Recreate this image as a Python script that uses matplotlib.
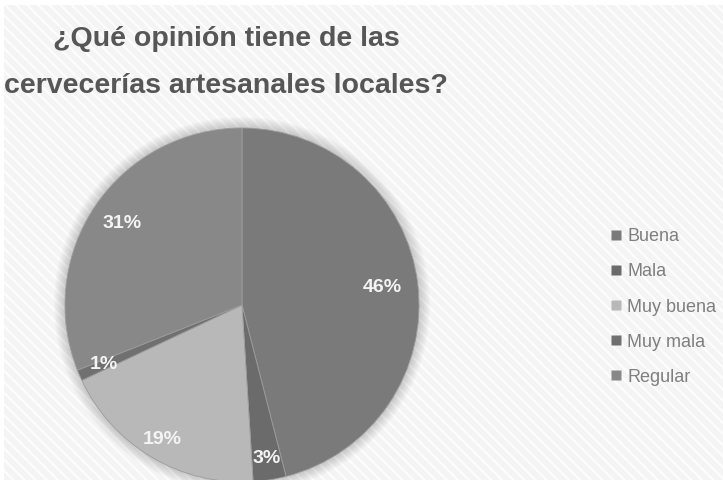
import numpy as np
import matplotlib
matplotlib.use("Agg")
import matplotlib.pyplot as plt
from matplotlib.patches import Rectangle, Circle
from matplotlib.lines import Line2D

# Survey answers
categories = ["Buena", "Mala", "Muy buena", "Muy mala", "Regular"]
percentages = [46, 3, 19, 1, 31]
title_lines = ["¿Qué opinión tiene de las", "cervecerías artesanales locales?"]

slice_colors = ["#7a7a7a", "#6b6b6b", "#b8b8b8", "#707070", "#888888"]
label_radius = [0.80, 0.88, 0.88, 0.85, 0.82]

plt.rcParams["hatch.linewidth"] = 1.6

W, H = 723, 480
fig = plt.figure(figsize=(W / 100, H / 100), dpi=100)
fig.patch.set_facecolor("white")

# striped light background
bg = Rectangle((4 / W, 0), 1, 1 - 5 / H, transform=fig.transFigure,
               facecolor="#f4f4f4", edgecolor="#fdfdfd", hatch="\\\\\\",
               linewidth=0, zorder=-1)
fig.patches.append(bg)

# title, two centred lines
for line, base in zip(title_lines, [46, 93]):
    fig.text(226 / W, 1 - base / H, line, ha="center", va="baseline",
             fontsize=20.5, fontweight="bold", color="#565656",
             family=["Liberation Sans", "DejaVu Sans"])

# pie
R = 177
cx, cy = 242, 305
ax = fig.add_axes([(cx - R) / W, (H - cy - R) / H, 2 * R / W, 2 * R / H])
ax.patch.set_visible(False)

# soft shadow around the pie
for k in range(10):
    ax.add_patch(Circle((0, 0), 1.0 + 0.007 * k, facecolor="#000000",
                        edgecolor="none", alpha=0.02, zorder=0, clip_on=False))

wedges, texts, autotexts = ax.pie(
    percentages, colors=slice_colors, startangle=90, counterclock=False,
    autopct=lambda p: f"{p:.0f}%", pctdistance=0.8,
    wedgeprops=dict(edgecolor="#9c9c9c", linewidth=0.6),
    textprops=dict(color="#f4f4f4", fontsize=14, fontweight="bold",
                   family=["Liberation Sans", "DejaVu Sans"]))

for w, t, r in zip(wedges, autotexts, label_radius):
    ang = np.deg2rad((w.theta1 + w.theta2) / 2)
    t.set_position((r * np.cos(ang), r * np.sin(ang)))

ax.set_xlim(-1, 1)
ax.set_ylim(-1, 1)
ax.axis("off")

# legend on the right
handles = [Line2D([], [], linestyle="none", marker="s", markersize=7,
                  markerfacecolor=c, markeredgecolor="none") for c in slice_colors]
leg = fig.legend(handles, categories, loc="center left",
                 bbox_to_anchor=(610 / W, 1 - 307 / H), frameon=False,
                 handlelength=0.7, handletextpad=0.25, labelspacing=1.0,
                 borderpad=0, borderaxespad=0,
                 prop=dict(family=["Liberation Sans", "DejaVu Sans"], size=13))
for txt in leg.get_texts():
    txt.set_color("#7f7f7f")

fig.savefig("out.png", dpi=100)
